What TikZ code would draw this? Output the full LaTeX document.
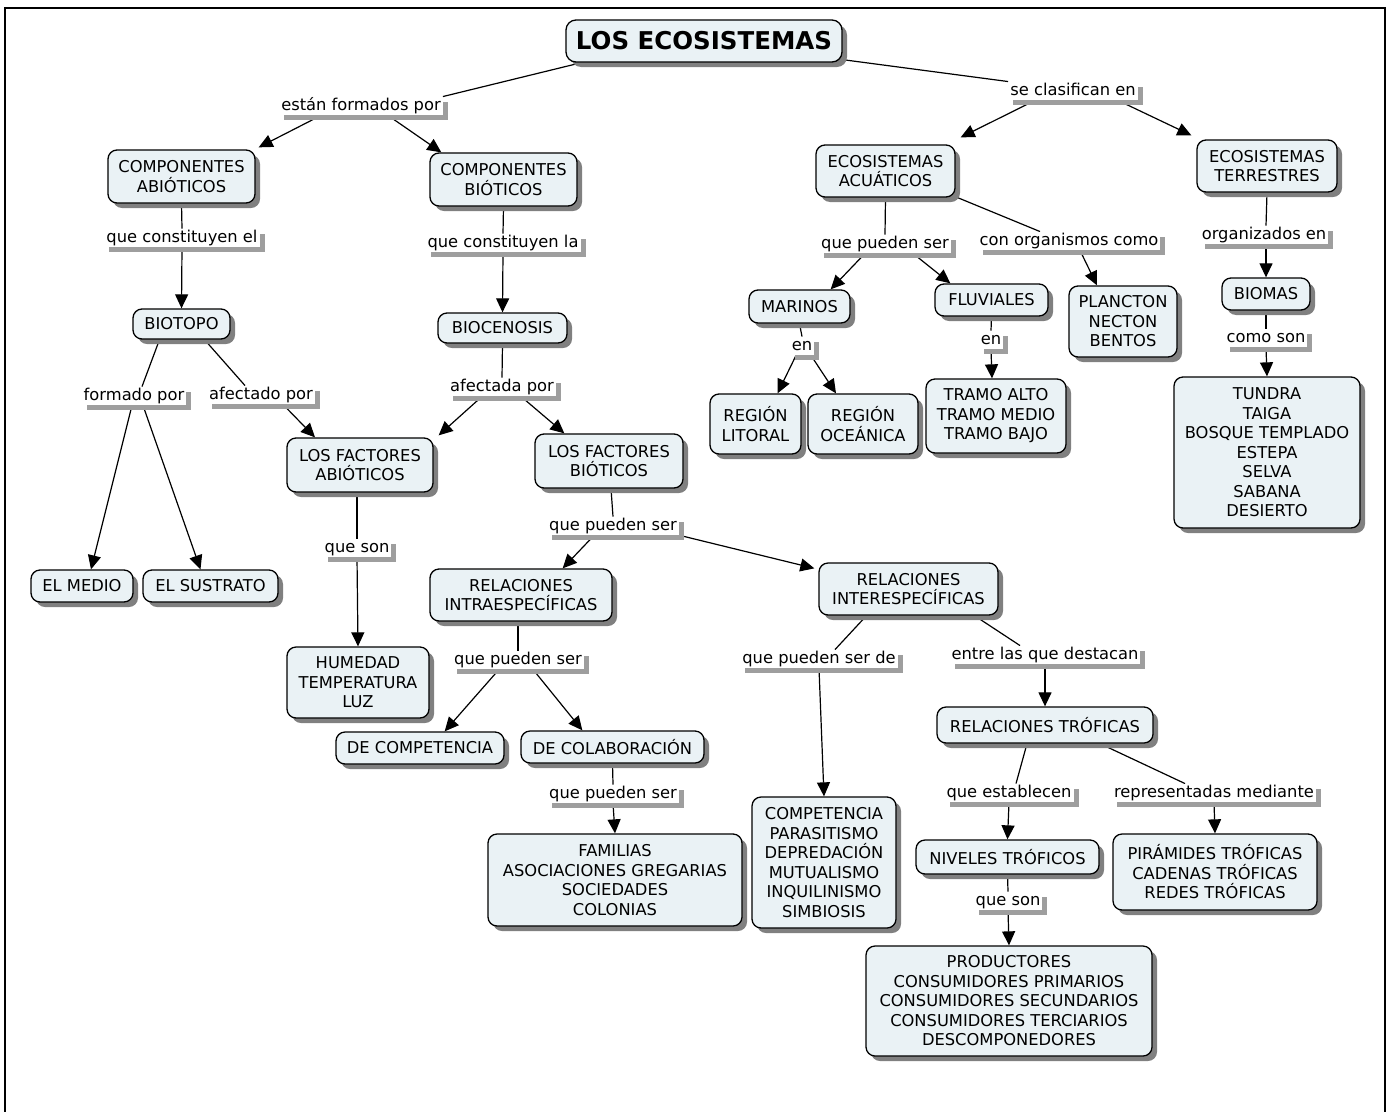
\documentclass[tikz,border=0pt]{standalone}
\usepackage{fontspec}
\setmainfont{DejaVu Sans}
\usetikzlibrary{shadows,arrows.meta}
\definecolor{boxfill}{HTML}{EAF2F5}
\pgfdeclarelayer{background}
\pgfsetlayers{background,main}
\tikzset{
  box/.style={draw, line width=1.3pt, rounded corners=9pt, fill=boxfill,
    drop shadow={shadow xshift=5pt, shadow yshift=-5pt, fill=black!50, opacity=1},
    align=center, inner sep=0pt, font=\fontsize{16.3}{19.5}\selectfont},
  lbl/.style={fill=white, inner xsep=2pt, inner ysep=1.5pt, text height=12pt, text depth=3.5pt,
    drop shadow={shadow xshift=5pt, shadow yshift=-5pt, fill=black!38, opacity=1},
    font=\fontsize{16.3}{19.5}\selectfont},
  ln/.style={line width=1.2pt},
  arr/.style={line width=1.2pt, -{Triangle[length=14pt,width=13pt]}},
}
\begin{document}
\begin{tikzpicture}[x=1pt,y=-1pt]
\useasboundingbox (0,0) rectangle (1391,1111);
\draw[line width=2.5pt] (5,1116) -- (5,8) -- (1385,8) -- (1385,1116);

% boxes
\node[box, rounded corners=10pt, minimum width=276, minimum height=42, font=\fontsize{24.5}{28}\selectfont\bfseries] (t) at (704,41) {LOS ECOSISTEMAS};
\node[box, minimum width=147, minimum height=53] (ca) at (181.5,176.5) {COMPONENTES\\ABIÓTICOS};
\node[box, minimum width=147, minimum height=53] (cb) at (503.5,179.5) {COMPONENTES\\BIÓTICOS};
\node[box, minimum width=139, minimum height=52] (ea) at (885.5,171) {ECOSISTEMAS\\ACUÁTICOS};
\node[box, minimum width=140, minimum height=52] (et) at (1267,166) {ECOSISTEMAS\\TERRESTRES};
\node[box, minimum width=97, minimum height=30] (bio) at (181.5,324) {BIOTOPO};
\node[box, minimum width=129, minimum height=30] (bioc) at (502.5,328) {BIOCENOSIS};
\node[box, minimum width=102, minimum height=32] (medio) at (82,586) {EL MEDIO};
\node[box, minimum width=135, minimum height=32] (sust) at (210.5,586) {EL SUSTRATO};
\node[box, minimum width=146, minimum height=54] (lfa) at (360,465) {LOS FACTORES\\ABIÓTICOS};
\node[box, minimum width=148, minimum height=54] (lfb) at (609,461) {LOS FACTORES\\BIÓTICOS};
\node[box, minimum width=142, minimum height=71] (hum) at (358,682.5) {HUMEDAD\\TEMPERATURA\\LUZ};
\node[box, minimum width=182, minimum height=52] (intra) at (521,595) {RELACIONES\\INTRAESPECÍFICAS};
\node[box, minimum width=179, minimum height=52] (inter) at (908.5,589) {RELACIONES\\INTERESPECÍFICAS};
\node[box, minimum width=168, minimum height=32] (comp) at (420,748) {DE COMPETENCIA};
\node[box, minimum width=183, minimum height=32] (colab) at (612.5,747) {DE COLABORACIÓN};
\node[box, minimum width=254, minimum height=92] (fam) at (615,880) {FAMILIAS\\ASOCIACIONES GREGARIAS\\SOCIEDADES\\COLONIAS};
\node[box, minimum width=144, minimum height=131] (compet) at (824,862.5) {COMPETENCIA\\PARASITISMO\\DEPREDACIÓN\\MUTUALISMO\\INQUILINISMO\\SIMBIOSIS};
\node[box, minimum width=216, minimum height=36] (rt) at (1045,725) {RELACIONES TRÓFICAS};
\node[box, minimum width=183, minimum height=34] (niv) at (1007.5,857) {NIVELES TRÓFICOS};
\node[box, minimum width=204, minimum height=76] (pir) at (1215,872) {PIRÁMIDES TRÓFICAS\\CADENAS TRÓFICAS\\REDES TRÓFICAS};
\node[box, minimum width=286, minimum height=110] (prod) at (1009,1001) {PRODUCTORES\\CONSUMIDORES PRIMARIOS\\CONSUMIDORES SECUNDARIOS\\CONSUMIDORES TERCIARIOS\\DESCOMPONEDORES};
\node[box, minimum width=101, minimum height=33] (mar) at (799.5,306.5) {MARINOS};
\node[box, minimum width=113, minimum height=32] (fluv) at (991.5,300) {FLUVIALES};
\node[box, minimum width=108, minimum height=71] (planc) at (1123,321.5) {PLANCTON\\NECTON\\BENTOS};
\node[box, minimum width=91, minimum height=60] (lit) at (755.5,424) {REGIÓN\\LITORAL};
\node[box, minimum width=110, minimum height=60] (oce) at (863,424) {REGIÓN\\OCEÁNICA};
\node[box, minimum width=140, minimum height=74] (tramo) at (996,416) {TRAMO ALTO\\TRAMO MEDIO\\TRAMO BAJO};
\node[box, minimum width=88, minimum height=32] (biomas) at (1266,294) {BIOMAS};
\node[box, minimum width=186, minimum height=151] (tundra) at (1267,452.5) {TUNDRA\\TAIGA\\BOSQUE TEMPLADO\\ESTEPA\\SELVA\\SABANA\\DESIERTO};

% labels
\node[lbl] (efp) at (361,106) {están formados por};
\node[lbl] (sce) at (1073,91) {se clasifican en};
\node[lbl] (qce) at (182,238) {que constituyen el};
\node[lbl] (qcl) at (503,243) {que constituyen la};
\node[lbl] (fp) at (134,396) {formado por};
\node[lbl] (afp) at (261,395) {afectado por};
\node[lbl] (afa) at (502,387) {afectada por};
\node[lbl] (qsa) at (357,548) {que son};
\node[lbl] (qpsa) at (613,526) {que pueden ser};
\node[lbl] (qpsb) at (518,660) {que pueden ser};
\node[lbl] (qpsc) at (613,794) {que pueden ser};
\node[lbl] (qpsd) at (819,659) {que pueden ser de};
\node[lbl] (eld) at (1045,655) {entre las que destacan};
\node[lbl] (qe) at (1009,793) {que establecen};
\node[lbl] (rm) at (1214,793) {representadas mediante};
\node[lbl] (qsb) at (1008,901) {que son};
\node[lbl] (qpse) at (885,244) {que pueden ser};
\node[lbl] (coc) at (1069,241) {con organismos como};
\node[lbl] (ena) at (802,346) {en};
\node[lbl] (enb) at (991,340) {en};
\node[lbl] (oe) at (1264,235) {organizados en};
\node[lbl] (cs) at (1266,338) {como son};

\begin{pgfonlayer}{background}
\draw[ln] ([xshift=12pt,yshift=-1pt]t.south west) -- (efp.north east);
\draw[ln] ([yshift=3pt]t.south east) -- (sce.north west);
\draw[arr] ([xshift=-40pt]efp.south) -- ([xshift=3pt,yshift=2pt]ca.north east);
\draw[arr] ([xshift=27pt]efp.south) -- ([xshift=12pt]cb.north west);
\draw[arr] ([xshift=-38pt]sce.south) -- ([xshift=5pt,yshift=7pt]ea.north east);
\draw[arr] ([xshift=45pt]sce.south) -- ([xshift=-5pt,yshift=4pt]et.north west);

\draw[ln] (ca.south) -- (qce.north);
\draw[arr] (qce.south) -- (bio.north);
\draw[ln] (cb.south) -- (qcl.north);
\draw[arr] (qcl.south) -- (bioc.north);
\draw[ln] ([xshift=-22pt]bio.south) -- ([xshift=8pt]fp.north);
\draw[ln] ([xshift=23pt]bio.south) -- ([xshift=-16pt]afp.north);
\draw[arr] ([xshift=-2pt]fp.south) -- ([xshift=9pt]medio.north);
\draw[arr] ([xshift=9pt]fp.south) -- ([xshift=-10pt]sust.north);
\draw[arr] ([xshift=22pt]afp.south) -- ([xshift=-45pt]lfa.north);
\draw[ln] (bioc.south) -- (afa.north);
\draw[arr] ([xshift=-20pt]afa.south) -- ([xshift=5pt,yshift=2pt]lfa.north east);
\draw[arr] ([xshift=19pt]afa.south) -- ([xshift=30pt]lfb.north west);
\draw[ln] ([xshift=-3pt]lfa.south) -- (qsa.north);
\draw[arr] (qsa.south) -- (hum.north);
\draw[ln] ([xshift=2pt]lfb.south) -- (qpsa.north);
\draw[arr] ([xshift=-19pt]qpsa.south) -- ([xshift=-50pt]intra.north east);
\draw[arr] ([xshift=67pt]qpsa.south) -- ([xshift=-4pt,yshift=-6pt]inter.north west);
\draw[ln] ([xshift=-3pt]intra.south) -- (qpsb.north);
\draw[arr] ([xshift=-19pt]qpsb.south) -- ([xshift=-60pt]comp.north east);
\draw[arr] ([xshift=15pt]qpsb.south) -- ([xshift=62pt]colab.north west);
\draw[ln] (colab.south) -- (qpsc.north);
\draw[arr] (qpsc.south) -- (fam.north);
\draw[ln] ([xshift=-42pt]inter.south) -- ([xshift=16pt]qpsd.north);
\draw[arr] (qpsd.south) -- (compet.north);
\draw[ln] ([xshift=66pt]inter.south) -- ([xshift=-25pt]eld.north);
\draw[arr] (eld.south) -- (rt.north);
\draw[ln] ([xshift=-18pt]rt.south) -- ([xshift=7pt]qe.north);
\draw[arr] (qe.south) -- (niv.north);
\draw[ln] ([xshift=55pt]rt.south) -- ([xshift=-29pt]rm.north);
\draw[arr] (rm.south) -- (pir.north);
\draw[ln] (niv.south) -- (qsb.north);
\draw[arr] (qsb.south) -- (prod.north);

\draw[ln] (ea.south) -- (qpse.north);
\draw[arr] ([xshift=-20pt]qpse.south) -- ([xshift=-20pt]mar.north east);
\draw[arr] ([xshift=28pt]qpse.south) -- ([xshift=16pt]fluv.north west);
\draw[ln] ([xshift=2pt]ea.south east) -- ([xshift=-29pt]coc.north);
\draw[arr] ([xshift=11pt]coc.south) -- ([xshift=-26pt]planc.north);
\draw[ln] (mar.south) -- (ena.north);
\draw[arr] ([xshift=-6pt]ena.south) -- ([xshift=22pt]lit.north);
\draw[arr] ([xshift=9pt]ena.south) -- ([xshift=-27pt]oce.north);
\draw[ln] (fluv.south) -- (enb.north);
\draw[arr] (enb.south) -- ([xshift=-4pt]tramo.north);
\draw[ln] (et.south) -- ([xshift=2pt]oe.north);
\draw[arr] ([xshift=2pt]oe.south) -- (biomas.north);
\draw[ln] (biomas.south) -- (cs.north);
\draw[arr] (cs.south) -- (tundra.north);
\end{pgfonlayer}
\end{tikzpicture}
\end{document}
